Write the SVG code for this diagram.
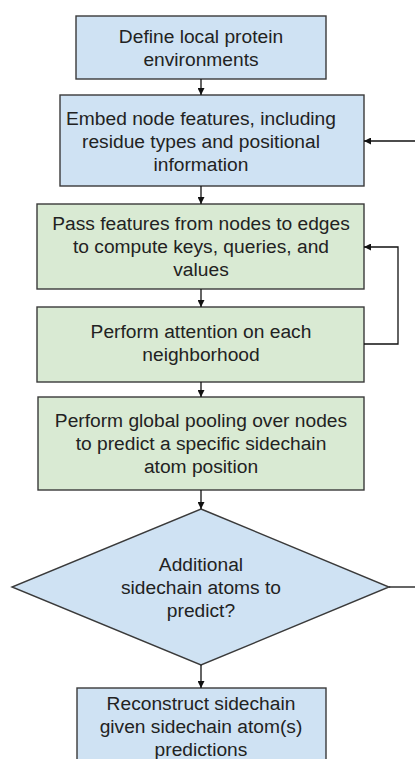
<svg xmlns="http://www.w3.org/2000/svg" width="415" height="759" viewBox="0 0 415 759">
<defs>
<style>
.blue{fill:#cfe2f3;stroke:#3a3a3a;stroke-width:1.4}
.green{fill:#d9ead3;stroke:#3a3a3a;stroke-width:1.4}
text{font-family:"Liberation Sans",Arial,sans-serif;font-size:19.2px;fill:#222;text-anchor:middle}
.conn{fill:none;stroke:#111;stroke-width:1.3}
</style>
<marker id="ah" viewBox="0 0 10 10" refX="10" refY="5" markerWidth="7" markerHeight="7" markerUnits="userSpaceOnUse" orient="auto">
<path d="M0,0 L10,5 L0,10 z" fill="#111"/>
</marker>
</defs>
<rect width="415" height="759" fill="#fff"/>
<g id="n1">
<rect class="blue" x="76" y="16" width="250" height="63"/>
<text x="201" y="43">Define local protein</text>
<text x="201" y="66">environments</text>
</g>
<g id="n2">
<rect class="blue" x="60" y="95" width="304" height="91"/>
<text x="201" y="125">Embed node features, including</text>
<text x="201" y="148">residue types and positional</text>
<text x="201" y="171">information</text>
</g>
<g id="n3">
<rect class="green" x="37" y="204" width="327" height="85"/>
<text x="201" y="230">Pass features from nodes to edges</text>
<text x="201" y="253">to compute keys, queries, and</text>
<text x="201" y="276">values</text>
</g>
<g id="n4">
<rect class="green" x="37" y="307" width="327" height="75"/>
<text x="201" y="338">Perform attention on each</text>
<text x="201" y="361">neighborhood</text>
</g>
<g id="n5">
<rect class="green" x="38" y="397" width="326" height="93"/>
<text x="201" y="427">Perform global pooling over nodes</text>
<text x="201" y="450">to predict a specific sidechain</text>
<text x="201" y="473">atom position</text>
</g>
<g id="n6">
<polygon class="blue" points="201,509 389,587 201,665 12,587"/>
<text x="201" y="571">Additional</text>
<text x="201" y="594">sidechain atoms to</text>
<text x="201" y="617">predict?</text>
</g>
<g id="n7">
<rect class="blue" x="77" y="688" width="249" height="85"/>
<text x="201" y="710">Reconstruct sidechain</text>
<text x="201" y="733">given sidechain atom(s)</text>
<text x="201" y="756">predictions</text>
</g>
<g id="connectors">
<line class="conn" x1="201" y1="79" x2="201" y2="95" marker-end="url(#ah)"/>
<line class="conn" x1="201" y1="186" x2="201" y2="204" marker-end="url(#ah)"/>
<line class="conn" x1="201" y1="289" x2="201" y2="307" marker-end="url(#ah)"/>
<line class="conn" x1="201" y1="382" x2="201" y2="397" marker-end="url(#ah)"/>
<line class="conn" x1="201" y1="490" x2="201" y2="509" marker-end="url(#ah)"/>
<line class="conn" x1="201" y1="665" x2="201" y2="688" marker-end="url(#ah)"/>
<polyline class="conn" points="364,344 398,344 398,247 364,247" marker-end="url(#ah)"/>
<line class="conn" x1="416" y1="141" x2="364" y2="141" marker-end="url(#ah)"/>
<line class="conn" x1="389" y1="587" x2="416" y2="587"/>
</g>
</svg>
